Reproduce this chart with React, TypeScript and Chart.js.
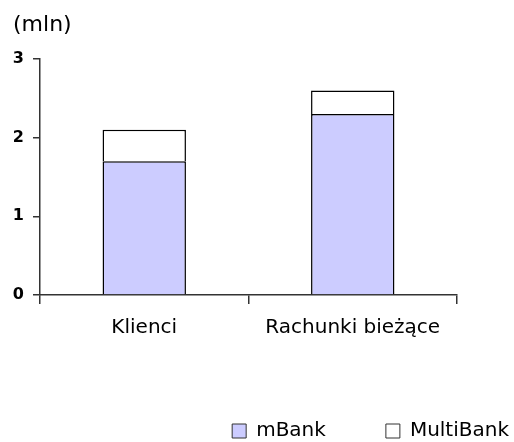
import React, { useEffect, useRef } from "react";
import { Chart, registerables } from "chart.js";

Chart.register(...registerables);

const categories = ["Klienci", "Rachunki bieżące"];
const mBankValues = [1.7, 2.3];
const multiBankValues = [0.4, 0.3];
const yTicks = [0, 1, 2, 3];
const unitLabel = "(mln)";

const legendShift = {
  id: "legendShift",
  afterLayout(chart: any) {
    const l = chart.legend;
    if (!l) return;
    l.left += 55;
    l.right += 55;
    l.top += 9;
    l.bottom += 9;
  },
};

export default function App() {
  const ref = useRef<HTMLCanvasElement | null>(null);
  useEffect(() => {
    if (!ref.current) return;
    const font = "'DejaVu Sans', Verdana, Tahoma, sans-serif";
    const chart = new Chart(ref.current, {
      type: "bar",
      plugins: [legendShift],
      data: {
        labels: categories,
        datasets: [
          {
            label: "mBank",
            data: mBankValues,
            backgroundColor: "#CCCCFF",
            borderColor: "#000000",
            borderWidth: 1.5,
            barPercentage: 0.4,
            categoryPercentage: 1,
          },
          {
            label: "MultiBank",
            data: multiBankValues,
            backgroundColor: "#FFFFFF",
            borderColor: "#000000",
            borderWidth: 1.5,
            barPercentage: 0.4,
            categoryPercentage: 1,
          },
        ],
      },
      options: {
        animation: false,
        responsive: false,
        maintainAspectRatio: false,
        layout: { padding: { left: 13, right: 0, top: 0, bottom: 0 } },
        plugins: {
          tooltip: { enabled: false },
          title: {
            display: true,
            text: unitLabel,
            align: "start",
            color: "#000",
            font: { family: font, size: 22, weight: "normal" },
            padding: { top: 12, bottom: 20.6 },
          },
          legend: {
            position: "bottom",
            align: "end",
            labels: {
              color: "#000",
              font: { family: font, size: 20 },
              boxWidth: 14,
              boxHeight: 14,
              padding: 60,
              generateLabels: (c: any) =>
                c.data.datasets.map((d: any, i: number) => ({
                  text: d.label,
                  fillStyle: d.backgroundColor,
                  strokeStyle: "#333",
                  lineWidth: 1,
                  datasetIndex: i,
                  fontColor: "#000",
                })),
            },
          },
        },
        scales: {
          x: {
            stacked: true,
            offset: true,
            border: { display: true, color: "#333", width: 1.5 },
            grid: {
              display: true,
              offset: true,
              drawOnChartArea: false,
              drawTicks: true,
              tickLength: 9,
              color: "#333",
              lineWidth: 1.5,
            },
            ticks: {
              color: "#000",
              padding: 12,
              font: { family: font, size: 20 },
            },
            afterFit: (s: any) => {
              s.height = 57;
            },
          },
          y: {
            stacked: true,
            min: 0,
            max: 3,
            afterBuildTicks: (s: any) => {
              s.ticks = yTicks.map((v) => ({ value: v }));
            },
            afterFit: (s: any) => {
              s.width = 27;
            },
            border: { display: true, color: "#333", width: 1.5 },
            grid: {
              display: true,
              drawOnChartArea: false,
              drawTicks: true,
              tickLength: 7,
              color: "#333",
              lineWidth: 1.5,
            },
            ticks: {
              color: "#000",
              padding: 9,
              font: { family: font, size: 16, weight: "bold" },
            },
          },
          spacer: {
            type: "linear",
            position: "right",
            display: true,
            border: { display: false },
            grid: { display: false, drawTicks: false },
            ticks: { display: false },
            afterFit: (s: any) => {
              s.width = 57;
            },
          },
        },
      },
    });
    return () => chart.destroy();
  }, []);
  return (
    <div style={{ position: "absolute", left: 0, top: 0, width: 514, height: 442 }}>
      <canvas ref={ref} width={514} height={442} style={{ width: 514, height: 442 }} />
    </div>
  );
}
